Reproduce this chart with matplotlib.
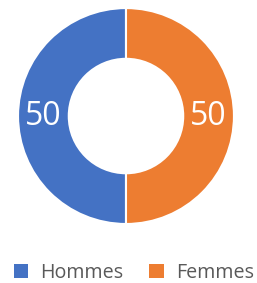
import numpy as np
import matplotlib.pyplot as plt
from matplotlib.patches import Patch

labels = ['Hommes', 'Femmes']
values = [50, 50]
colors = ['#4472C4', '#ED7D31']

plt.rcParams['font.family'] = ['Open Sans', 'DejaVu Sans']

fig = plt.figure(figsize=(2.57, 2.83), dpi=100)
ax = fig.add_axes([0.070, 0.2085, 0.8405, 0.763])

wedges, _ = ax.pie(values, colors=colors, startangle=90, counterclock=True,
                   radius=1.0, wedgeprops=dict(width=0.47, edgecolor='white', linewidth=1.5))

# etiquettes de valeur au milieu de l'anneau
for w, v in zip(wedges, values):
    ang = np.radians((w.theta1 + w.theta2) / 2)
    r = 1.0 - 0.47 / 2
    ax.text(r * np.cos(ang), r * np.sin(ang), str(v), ha='center', va='center',
            color='white', fontsize=23)

ax.set_xlim(-1, 1)
ax.set_ylim(-1, 1)
ax.set_aspect('equal')
ax.axis('off')

handles = [Patch(facecolor=c, edgecolor='none') for c in colors]
fig.legend(handles, labels, loc='center', bbox_to_anchor=(0.52, 0.036), ncol=2,
           frameon=False, fontsize=14.2, labelcolor='#595959',
           handlelength=0.75, handleheight=0.75, handletextpad=0.6, columnspacing=1.3)

fig.savefig('out.png', dpi=100)
